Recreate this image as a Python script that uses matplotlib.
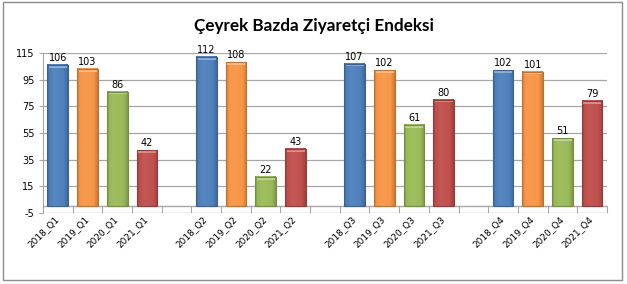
import numpy as np
import matplotlib
matplotlib.use('Agg')
import matplotlib.pyplot as plt
from matplotlib.colors import to_rgb
from matplotlib.patches import Rectangle

# data
years = ['2018', '2019', '2020', '2021']
quarters = ['Q1', 'Q2', 'Q3', 'Q4']
q1_vals = [106, 103, 86, 42]
q2_vals = [112, 108, 22, 43]
q3_vals = [107, 102, 61, 80]
q4_vals = [102, 101, 51, 79]
yticks = [-5, 15, 35, 55, 75, 95, 115]

bar_colors = ['#4F81BD', '#F79646', '#9BBB59', '#C0504D']

# build the 19 categories (empty slot between quarters)
labels, values, colors = [], [], []
for qi, (q, vals) in enumerate(zip(quarters, [q1_vals, q2_vals, q3_vals, q4_vals])):
    if qi > 0:
        labels.append('')
        values.append(None)
        colors.append(None)
    for y, v, c in zip(years, vals, bar_colors):
        labels.append(y + '_' + q)
        values.append(v)
        colors.append(c)


def mix(c, other, t):
    c = np.array(to_rgb(c))
    o = np.array(to_rgb(other))
    return c * (1 - t) + o * t


def shade(c, n=40):
    # soft horizontal gradient, darker at the edges
    pos = np.linspace(0, 1, n)
    prof = np.interp(pos, [0, 0.1, 0.35, 0.8, 1.0], [-0.22, -0.02, 0.05, 0.0, -0.18])
    row = []
    for p in prof:
        if p >= 0:
            row.append(mix(c, 'white', p))
        else:
            row.append(mix(c, 'black', -p))
    return np.array([row])


fig = plt.figure(figsize=(6.27, 2.84), dpi=100)
fig.patch.set_facecolor('white')
fig.patches.append(Rectangle((0.004, 0.014), 0.988, 0.978, transform=fig.transFigure,
                             fill=False, edgecolor='#8c8c8c', linewidth=1.0))

ax = fig.add_axes([0.0686, 0.25, 0.8994, 0.563])
n = len(labels)
x = np.arange(n)
w = 0.7

for i, (v, c) in enumerate(zip(values, colors)):
    if v is None:
        continue
    ax.imshow(shade(c), extent=(i - w / 2, i + w / 2, 0, v), aspect='auto',
              interpolation='bilinear', zorder=3)
    # top highlight
    ax.imshow(np.array([[mix(c, 'white', 0.35)]]), extent=(i - w / 2 + 0.06, i + w / 2 - 0.06, v - 2.0, v - 0.6),
              aspect='auto', zorder=4)
    ax.bar(i, v, width=w, facecolor='none', edgecolor=mix(c, 'black', 0.25), linewidth=0.8, zorder=5)
    ax.annotate(str(v), (i, v), xytext=(0, 1.5), textcoords='offset points',
                ha='center', va='bottom', fontsize=7, color='black', zorder=6)

ax.set_xlim(-0.5, n - 0.5)
ax.set_ylim(-5, 115)
ax.set_yticks(yticks)
ax.set_yticklabels([str(t) for t in yticks], fontsize=7)
ax.yaxis.grid(True, color='#a6a6a6', linewidth=0.9, zorder=0)
ax.set_axisbelow(True)

# category axis crossing at 0, ticks between categories
ax.axhline(0, color='#a6a6a6', linewidth=1.0, zorder=2)
for b in np.arange(-0.5, n, 1.0):
    ax.plot([b, b], [0, -4.5], color='#a6a6a6', linewidth=0.8, clip_on=False, zorder=2)
ax.set_xticks([])
for i, lab in enumerate(labels):
    if lab:
        ax.text(i - 0.12, -6, lab, rotation=45, rotation_mode='anchor', ha='right', va='top',
                fontsize=6.5, transform=ax.transData)

for s in ['top', 'right', 'bottom']:
    ax.spines[s].set_visible(False)
ax.spines['left'].set_color('#a6a6a6')
ax.tick_params(axis='y', length=3, color='#a6a6a6', pad=3)

fig.text(0.5, 0.908, 'Çeyrek Bazda Ziyaretçi Endeksi', ha='center', va='center',
         fontsize=12.3, fontweight='bold', family=['Lato', 'DejaVu Sans'])

fig.savefig('out.png', dpi=100)
